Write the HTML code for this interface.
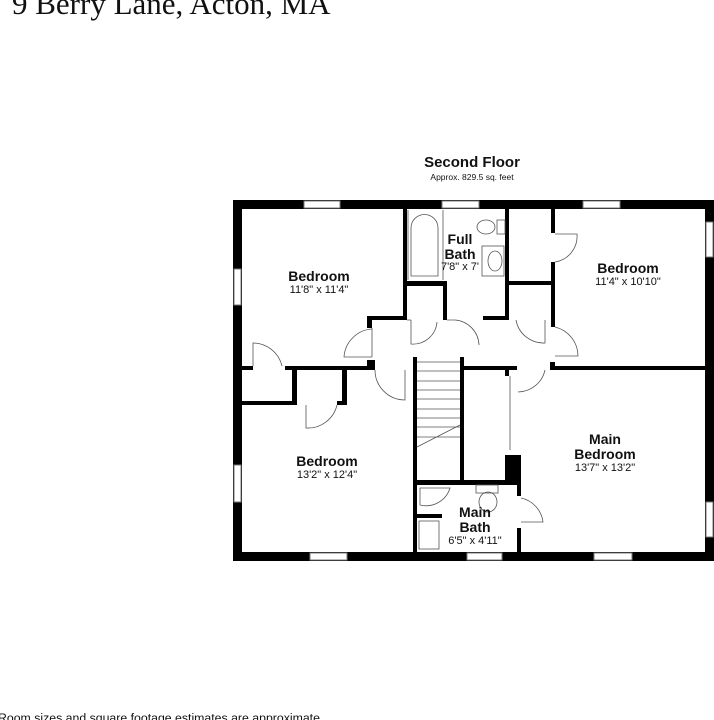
<!DOCTYPE html>
<html><head><meta charset="utf-8"><style>
html,body{margin:0;padding:0;background:#fff;width:714px;height:720px;overflow:hidden}
svg{display:block}
.b{font-family:"Liberation Sans",sans-serif;font-weight:bold;font-size:14px;fill:#111;text-anchor:middle}
.d{font-family:"Liberation Sans",sans-serif;font-size:11px;fill:#111;text-anchor:middle}
</style></head><body>
<svg width="714" height="720" viewBox="0 0 714 720" xmlns="http://www.w3.org/2000/svg">
<text x="12" y="14" font-family="Liberation Serif,serif" font-size="31" fill="#111">9 Berry Lane, Acton, MA</text>
<text x="-2" y="722" font-family="Liberation Sans,sans-serif" font-size="12.3" fill="#111">Room sizes and square footage estimates are approximate</text>
<text x="472" y="167" class="b" style="font-size:15px">Second Floor</text>
<text x="472" y="180" class="d" style="font-size:8.5px">Approx. 829.5 sq. feet</text>
<g fill="#000">
<rect x="233" y="200" width="481" height="9"/>
<rect x="233" y="552" width="481" height="9"/>
<rect x="233" y="200" width="9" height="361"/>
<rect x="705" y="200" width="9" height="361"/>
<rect x="403" y="209" width="4" height="111"/>
<rect x="367" y="316" width="40" height="4"/>
<rect x="367" y="316" width="5" height="12"/>
<rect x="367" y="360" width="5" height="10"/>
<rect x="407" y="281" width="40" height="5"/>
<rect x="443" y="281" width="4" height="39"/>
<rect x="483" y="316" width="26" height="4"/>
<rect x="505" y="209" width="4" height="111"/>
<rect x="509" y="281" width="46" height="4"/>
<rect x="551" y="209" width="4" height="24"/>
<rect x="551" y="262" width="4" height="65"/>
<rect x="550" y="362" width="5" height="8"/>
<rect x="550" y="366" width="155" height="4"/>
<rect x="242" y="366" width="11" height="4"/>
<rect x="285" y="366" width="90" height="4"/>
<rect x="367" y="360" width="8" height="10"/>
<rect x="292" y="370" width="5" height="35"/>
<rect x="242" y="401" width="55" height="4"/>
<rect x="342" y="366" width="5" height="39"/>
<rect x="337" y="401" width="10" height="4"/>
<rect x="413" y="357" width="4" height="195"/>
<rect x="460" y="357" width="4" height="123"/>
<rect x="464" y="366" width="53" height="4"/>
<rect x="505" y="370" width="4" height="6"/>
<rect x="505" y="455" width="16" height="27"/>
<rect x="417" y="480" width="104" height="5"/>
<rect x="517" y="482" width="4" height="14"/>
<rect x="517" y="528" width="4" height="24"/>
<rect x="417" y="514" width="25" height="4"/>
</g>
<g fill="#fff" stroke="#777" stroke-width="1">
<rect x="304" y="201" width="36" height="7"/><rect x="442" y="201" width="37" height="7"/><rect x="583" y="201" width="37" height="7"/>
<rect x="234" y="269" width="7" height="36"/><rect x="234" y="465" width="7" height="37"/>
<rect x="706" y="222" width="7" height="35"/><rect x="706" y="502" width="7" height="35"/>
<rect x="310" y="553" width="37" height="7"/><rect x="467" y="553" width="35" height="7"/><rect x="594" y="553" width="38" height="7"/>
</g>
<g fill="none" stroke="#555" stroke-width="0.8">
<path d="M372 328 L372 357 M372 329 A30 30 0 0 0 344 357 L372 357"/>
<path d="M375 370 A30 30 0 0 0 405 400 L405 370"/>
<path d="M407 320 L411 320 M411 320 L411 344 A24 24 0 0 0 437 322"/>
<path d="M447 320 L455 320 A26 26 0 0 1 479 345"/>
<path d="M516 320 A28 28 0 0 0 545 343 L545 320"/>
<path d="M555 327 A30 30 0 0 1 578 356 L555 356"/>
<path d="M545 370 A28 28 0 0 1 518 392"/>
<path d="M253 366 L253 343 A30 30 0 0 1 282 366"/>
<path d="M306 405 L306 428 A30 30 0 0 0 337 405"/>
<path d="M555 234 L577 234 A26 26 0 0 1 555 262"/>
<path d="M521 498 A28 28 0 0 1 543 522 L521 522"/>
<path d="M510 376 L510 450"/>
<path d="M411 276 L411 228 A12 12 0 0 1 438 228 L438 276 Z"/>
<path d="M408 210 L408 280 M443 210 L443 280"/>
<ellipse cx="486" cy="227" rx="9" ry="7"/><rect x="497" y="220" width="8" height="14"/>
<rect x="482" y="246" width="22" height="30"/><ellipse cx="495" cy="261" rx="7" ry="10"/>
<path d="M420 488 L420 505 A25 25 0 0 0 450 488 Z"/>
<rect x="476" y="485" width="22" height="8"/><ellipse cx="488" cy="502" rx="9" ry="10"/>
<rect x="419" y="521" width="20" height="28"/>
<path d="M417 362 H460 M417 371 H460 M417 381 H460 M417 390 H460 M417 399 H460 M417 409 H460 M417 418 H460 M417 427 H460 M417 437 H460 M417 447 L460 425"/>
</g>
<text x="319" y="281" class="b">Bedroom</text><text x="319" y="293" class="d">11'8" x 11'4"</text>
<text x="460" y="244" class="b">Full</text><text x="460" y="259" class="b">Bath</text><text x="460" y="270" class="d">7'8" x 7'</text>
<text x="628" y="273" class="b">Bedroom</text><text x="628" y="285" class="d">11'4" x 10'10"</text>
<text x="327" y="466" class="b">Bedroom</text><text x="327" y="478" class="d">13'2" x 12'4"</text>
<text x="605" y="444" class="b">Main</text><text x="605" y="459" class="b">Bedroom</text><text x="605" y="471" class="d">13'7" x 13'2"</text>
<text x="475" y="517" class="b">Main</text><text x="475" y="532" class="b">Bath</text><text x="475" y="544" class="d">6'5" x 4'11"</text>
</svg>
</body></html>
